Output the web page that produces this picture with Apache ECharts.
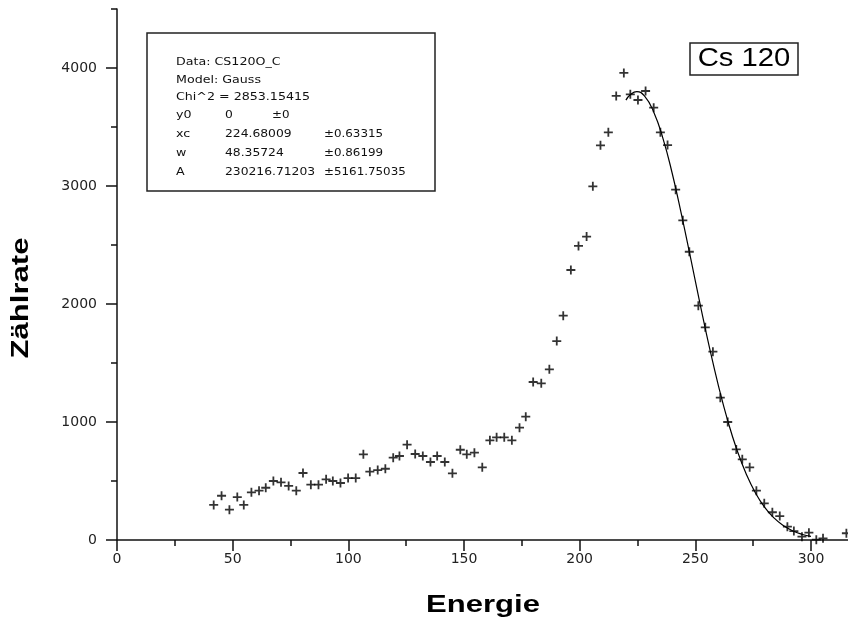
<!DOCTYPE html>
<html>
<head>
<meta charset="utf-8">
<script src="https://cdn.jsdelivr.net/npm/echarts@6/dist/echarts.min.js"></script>
<style>html,body{margin:0;padding:0;background:#fff;}#c{width:848px;height:622px;}</style>
</head>
<body>
<div id="c"></div>
<script>
// Measured data (Energie vs Zählrate)
var energy = [41.8,45.2,48.6,52.0,54.8,58.1,61.4,64.3,67.6,70.9,74.2,77.5,80.4,83.8,87.1,90.4,93.3,96.6,99.9,103.2,
  106.5,109.3,112.7,116.0,119.4,122.1,125.4,128.9,132.2,135.5,138.4,141.7,145.0,148.4,151.2,154.5,157.9,161.2,164.1,167.4,170.7,174.0,176.7,
  179.9,183.4,186.9,190.1,192.9,196.2,199.5,203.0,205.7,209.0,212.4,215.8,219.1,221.9,225.2,228.5,
  232.0,234.9,238.0,241.5,244.6,247.4,251.3,254.3,257.6,
  260.8,264.0,267.7,270.3,273.5,276.4,279.8,283.3,286.5,289.8,292.6,296.1,299.1,302.3,305.2,315.3];
var counts = [297,375,257,364,297,404,418,443,500,489,458,418,568,469,469,514,500,483,525,525,
  726,579,593,604,698,712,808,729,712,661,712,661,565,765,726,740,616,845,870,870,845,952,1045,
  1339,1328,1446,1686,1901,2288,2492,2571,2997,3345,3455,3763,3958,3777,3729,3805,
  3664,3455,3347,2969,2709,2443,1986,1802,1596,
  1206,1000,768,684,616,418,311,235,203,113,76,28,62,3,14,57];
// Gauss fit curve
var fitEnergy = [220,222,224.7,228,232,236,240,244,248,252,256,260,264,268,272,276,280,284,288,292,296,300];
var fitCounts = [3728,3775,3799,3763,3628,3404,3108,2760,2386,2006,1641,1307,1012,763,560,399,277,187,123,79,49,30];
// Axis ranges and ticks
var xRange = [0, 316];
var yRange = [0, 4500];
var xMajorTicks = [0, 50, 100, 150, 200, 250, 300];
var xMinorTicks = [25, 75, 125, 175, 225, 275];
var yMajorTicks = [0, 1000, 2000, 3000, 4000];
var yMinorTicks = [500, 1500, 2500, 3500, 4500];
// Text
var infoLabels = ['Data: CS120O_C', 'Model: Gauss', 'Chi^2 = 2853.15415', 'y0', 'xc', 'w', 'A'];
var infoValues = ['', '', '', '0', '224.68009', '48.35724', '230216.71203'];
var infoErrors = ['', '', '', '±0', '±0.63315', '±0.86199', '±5161.75035'];
var tagText = 'Cs 120';
var xName = 'Energie';
var yName = 'Zählrate';

var scatterData = energy.map(function (e, i) { return [e, counts[i]]; });
var fitData = fitEnergy.map(function (e, i) { return [e, fitCounts[i]]; });

var plus = 'path://M4,0 L6,0 L6,4 L10,4 L10,6 L6,6 L6,10 L4,10 L4,6 L0,6 L0,4 L4,4 Z';
var axisCol = '#111';

var rowY = [62, 80, 97, 115, 134, 153, 172];
var info = [];
var infoFont = '11px "DejaVu Sans"';
info.push({type: 'rect', shape: {x: 147, y: 33, width: 288, height: 158}, style: {fill: '#fff', stroke: '#222', lineWidth: 1.5}, z: 10});
infoLabels.forEach(function (t, i) {
  info.push({type: 'text', x: 176, y: rowY[i], scaleX: 1.15, z: 11, style: {text: t, font: infoFont, fill: '#111', textVerticalAlign: 'middle'}});
  if (infoValues[i]) info.push({type: 'text', x: 225, y: rowY[i], scaleX: 1.12, z: 11, style: {text: infoValues[i], font: infoFont, fill: '#111', textVerticalAlign: 'middle'}});
  if (infoErrors[i]) info.push({type: 'text', x: (i === 3 ? 272 : 324), y: rowY[i], scaleX: 1.08, z: 11, style: {text: infoErrors[i], font: infoFont, fill: '#111', textVerticalAlign: 'middle'}});
});
info.push({type: 'rect', shape: {x: 690, y: 43, width: 108, height: 32}, style: {fill: '#fff', stroke: '#222', lineWidth: 1.5}, z: 10});
info.push({type: 'text', x: 744, y: 59, scaleX: 1.17, z: 11, style: {text: tagText, font: '25px "Liberation Sans"', fill: '#000', textAlign: 'center', textVerticalAlign: 'middle'}});
info.push({type: 'text', x: 483, y: 606, scaleX: 1.35, z: 11, style: {text: xName, font: 'bold 23px "Liberation Sans"', fill: '#000', textAlign: 'center', textVerticalAlign: 'middle'}});
info.push({type: 'text', x: 22, y: 298, rotation: Math.PI / 2, scaleX: 1.35, z: 11, style: {text: yName, font: 'bold 23px "Liberation Sans"', fill: '#000', textAlign: 'center', textVerticalAlign: 'middle'}});

function plain(v) { return String(v); }

var chart = echarts.init(document.getElementById('c'), null, {renderer: 'canvas'});
chart.setOption({
  animation: false,
  backgroundColor: '#fff',
  grid: {left: 117, right: 0, top: 9, bottom: 82, containLabel: false},
  xAxis: [{
    type: 'value', position: 'bottom', min: xRange[0], max: xRange[1],
    axisLine: {show: true, onZero: false, lineStyle: {color: axisCol, width: 1.5}},
    axisTick: {show: true, length: 11, customValues: xMajorTicks, lineStyle: {color: axisCol, width: 1.5}},
    axisLabel: {show: true, margin: 12, fontSize: 14, fontFamily: 'DejaVu Sans', color: '#222', customValues: xMajorTicks, formatter: plain},
    splitLine: {show: false}
  }, {
    type: 'value', position: 'bottom', min: xRange[0], max: xRange[1],
    axisLine: {show: false, onZero: false},
    axisTick: {show: true, length: 6, customValues: xMinorTicks, lineStyle: {color: axisCol, width: 1.5}},
    axisLabel: {show: false},
    splitLine: {show: false}
  }],
  yAxis: [{
    type: 'value', position: 'left', min: yRange[0], max: yRange[1],
    axisLine: {show: true, onZero: false, lineStyle: {color: axisCol, width: 1.5}},
    axisTick: {show: true, length: 11, customValues: yMajorTicks, lineStyle: {color: axisCol, width: 1.5}},
    axisLabel: {show: true, margin: 20, fontSize: 14, fontFamily: 'DejaVu Sans', color: '#222', customValues: yMajorTicks, formatter: plain},
    splitLine: {show: false}
  }, {
    type: 'value', position: 'left', min: yRange[0], max: yRange[1],
    axisLine: {show: false, onZero: false},
    axisTick: {show: true, length: 6, customValues: yMinorTicks, lineStyle: {color: axisCol, width: 1.5}},
    axisLabel: {show: false},
    splitLine: {show: false}
  }],
  graphic: info,
  series: [
    {type: 'scatter', data: scatterData, symbol: plus, symbolSize: 9, itemStyle: {color: '#000'}, z: 3},
    {type: 'line', data: fitData, smooth: true, showSymbol: false, symbol: 'none', lineStyle: {color: '#000', width: 1.2}, z: 2}
  ]
});
</script>
</body>
</html>
